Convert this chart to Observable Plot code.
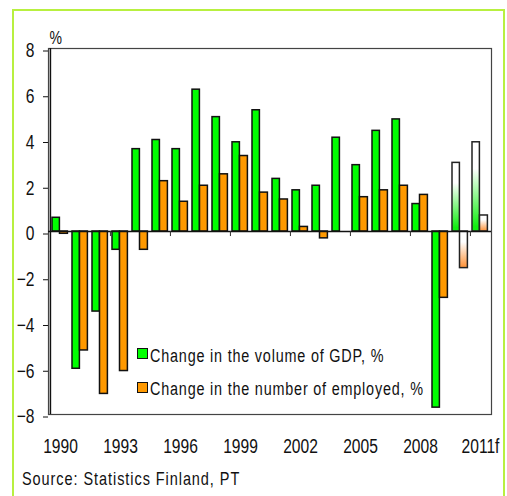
<!DOCTYPE html>
<html><head><meta charset="utf-8">
<script src="https://cdn.jsdelivr.net/npm/d3@7"></script>
<script src="https://cdn.jsdelivr.net/npm/@observablehq/plot@0.6"></script>
<style>
body{margin:0;background:#fff;width:507px;height:496px;overflow:hidden;position:relative;font-family:"Liberation Sans",Arial,sans-serif;}
#border{position:absolute;left:12px;top:9px;width:489px;height:540px;border:2px solid #b8f040;}
#chart{position:absolute;left:0;top:0;}
.sw{position:absolute;width:9px;height:9px;border:1.5px solid #111;}
.lt{position:absolute;white-space:nowrap;font-size:18px;line-height:18px;letter-spacing:1px;color:#111;transform:scaleX(0.8);transform-origin:0 0;}
#source{position:absolute;left:22px;top:470px;font-size:18.5px;line-height:18px;letter-spacing:1.2px;color:#111;white-space:nowrap;transform:scaleX(0.783);transform-origin:0 0;}
</style></head>
<body>
<div id="border"></div>
<div id="chart"></div>
<div id="legend"></div>
<div id="source"></div>
<script>
const years = [1990,1991,1992,1993,1994,1995,1996,1997,1998,1999,2000,2001,2002,2003,2004,2005,2006,2007,2008,2009,2010,2011];
const gdp = [0.6,-6.0,-3.5,-0.8,3.6,4.0,3.6,6.2,5.0,3.9,5.3,2.3,1.8,2.0,4.1,2.9,4.4,4.9,1.2,-7.7,3.0,3.9];
const employed = [-0.1,-5.2,-7.1,-6.1,-0.8,2.2,1.3,2.0,2.5,3.3,1.7,1.4,0.2,-0.3,0.0,1.5,1.8,2.0,1.6,-2.9,-1.6,0.7];
const forecastYears = [2010,2011];
const xTickYears = [1990,1993,1996,1999,2002,2005,2008,2011];
const xTickLabels = ["1990","1993","1996","1999","2002","2005","2008","2011f"];
const yTicks = [-8,-6,-4,-2,0,2,4,6,8];
const seriesNames = ["Change in the volume of GDP, %","Change in the number of employed, %"];
const seriesColors = ["#00ff00","#ff9900"];
const yUnit = "%";
const sourceText = "Source: Statistics Finland, PT";

const gdpRows = years.map((y,i)=>({year:y,value:gdp[i]}));
const empRows = years.map((y,i)=>({year:y,value:employed[i]})).filter(d=>d.value!==0);
const isFc = d => forecastYears.includes(d.year);
const boundaryYears = xTickYears.slice(1);

const FONT = '"Liberation Sans",Arial,sans-serif';

function defs(){
  const d = d3.create("svg:defs");
  const mk = (id, col) => {
    const g = d.append("linearGradient").attr("id",id).attr("x1",0).attr("y1",0).attr("x2",0).attr("y2",1);
    g.append("stop").attr("offset","0").attr("stop-color","#ffffff");
    g.append("stop").attr("offset","0.3").attr("stop-color","#ffffff");
    g.append("stop").attr("offset","0.95").attr("stop-color",col);
  };
  mk("gradG","#11ee11");
  mk("gradO","#ff9944");
  return d.node();
}

const chart = Plot.plot({
  width: 507, height: 460,
  marginTop: 48, marginLeft: 48, marginRight: 16, marginBottom: 46,
  style: {fontFamily: FONT, fontSize: "20px", color: "#111", background: "transparent"},
  x: {type: "band", domain: years, padding: 0},
  y: {domain: [-8, 8]},
  marks: [
    defs,
    Plot.frame({stroke: "#444", strokeWidth: 1.2}),
    Plot.barY(gdpRows, {filter: d=>!isFc(d), x: "year", y: "value", fill: seriesColors[0], stroke: "#111", strokeWidth: 1.5, insetLeft: 2, insetRight: 10.6}),
    Plot.barY(gdpRows, {filter: isFc, x: "year", y: "value", fill: "url(#gradG)", stroke: "#222", strokeWidth: 1.5, insetLeft: 2, insetRight: 10.6}),
    Plot.barY(empRows, {filter: d=>!isFc(d), x: "year", y: "value", fill: seriesColors[1], stroke: "#111", strokeWidth: 1.5, insetLeft: 9.5, insetRight: 2.6}),
    Plot.barY(empRows, {filter: isFc, x: "year", y: "value", fill: "url(#gradO)", stroke: "#222", strokeWidth: 1.5, insetLeft: 9.5, insetRight: 2.6}),
    Plot.ruleY([0], {stroke: "#111", strokeWidth: 1.5}),
    Plot.ruleX(boundaryYears, {x: d=>d, y1: 0, y2: -0.22, dx: -10.07, stroke: "#333", strokeWidth: 1}),
    Plot.ruleX([years[0]], {x: d=>d, dx: -10.07, stroke: "#111", strokeWidth: 1.5}),
    Plot.axisY({ticks: yTicks, tickSize: 5, tickPadding: 9, label: null, stroke: "#111", fontSize: 20, dy: 2.5}),
    Plot.axisX({ticks: xTickYears, tickSize: 0, tickPadding: 24.5, label: null, fontSize: 20, tickFormat: d => xTickLabels[xTickYears.indexOf(d)]}),
    Plot.text([yUnit], {frameAnchor: "top-left", text: d=>d, dx: 1, dy: -5, lineAnchor: "bottom", textAnchor: "start", fontSize: 18})
  ]
});
document.getElementById("chart").appendChild(chart);
d3.select(chart).selectAll("text").each(function(){
  const L = this.getComputedTextLength();
  if (L > 0) { this.setAttribute("textLength", L*0.78); this.setAttribute("lengthAdjust","spacingAndGlyphs"); }
});

const lg = document.getElementById("legend");
seriesNames.forEach((n,i)=>{
  const s = document.createElement("div"); s.className="sw"; s.style.background=seriesColors[i];
  s.style.left = "137px"; s.style.top = (348 + i*33.6) + "px";
  const t = document.createElement("div"); t.className="lt"; t.textContent=n;
  t.style.left = "150px"; t.style.top = (346.8 + i*33.6) + "px";
  lg.appendChild(s); lg.appendChild(t);
});
document.getElementById("source").textContent = sourceText;
</script>
</body></html>
